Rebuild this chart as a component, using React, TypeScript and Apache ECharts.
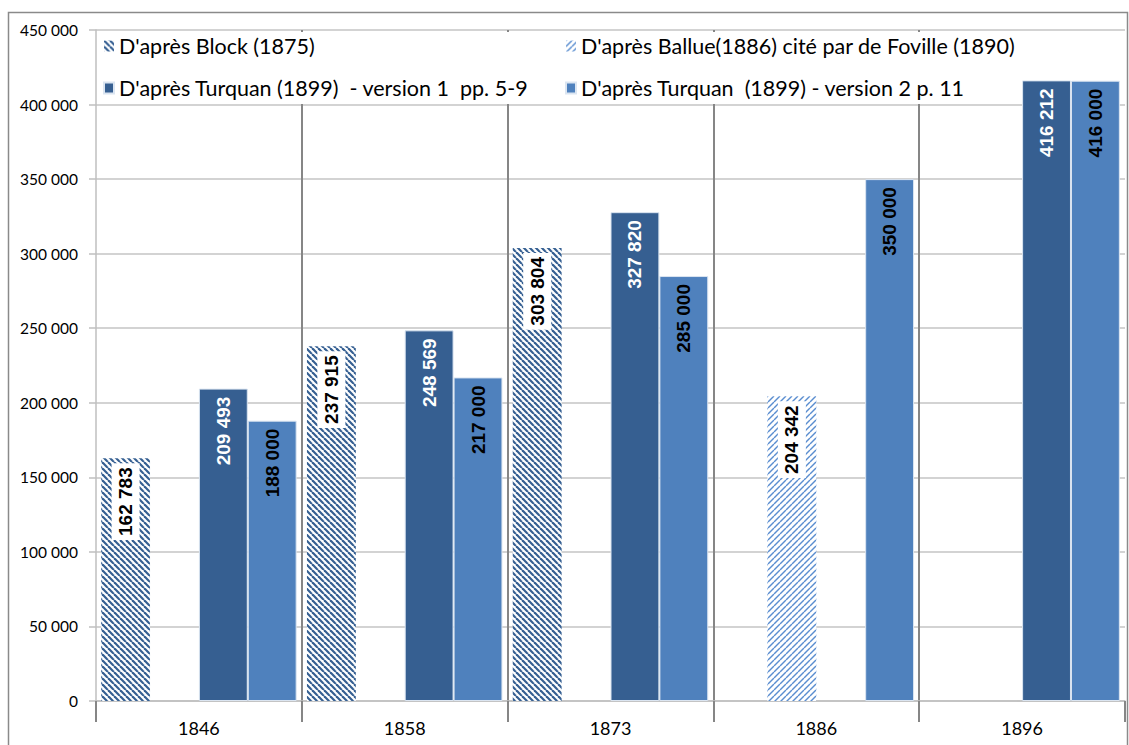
import React, { useEffect, useRef } from "react";
import * as echarts from "echarts";

const categories = ["1846", "1858", "1873", "1886", "1896"];
const seriesNames = [
  "D'après Block (1875)",
  "D'après Ballue(1886) cité par de Foville (1890)",
  "D'après Turquan (1899)  - version 1  pp. 5-9",
  "D'après Turquan  (1899) - version 2 p. 11",
];
const blockValues = [162783, 237915, 303804, null, null];
const ballueValues = [null, null, null, 204342, null];
const turquan1Values = [209493, 248569, 327820, null, 416212];
const turquan2Values = [188000, 217000, 285000, 350000, 416000];
const yTicks = [0, 50000, 100000, 150000, 200000, 250000, 300000, 350000, 400000, 450000];

const fmt = (v: number) => String(v).replace(/\B(?=(\d{3})+(?!\d))/g, " ");

function hatch(color: string, size: number, lw: number, back: boolean) {
  const c = document.createElement("canvas");
  c.width = size;
  c.height = size;
  const ctx = c.getContext("2d")!;
  ctx.fillStyle = "#ffffff";
  ctx.fillRect(0, 0, size, size);
  ctx.strokeStyle = color;
  ctx.lineWidth = lw;
  for (const o of [-size, 0, size]) {
    ctx.beginPath();
    if (back) {
      ctx.moveTo(o, 0);
      ctx.lineTo(o + size, size);
    } else {
      ctx.moveTo(o, size);
      ctx.lineTo(o + size, 0);
    }
    ctx.stroke();
  }
  return { image: c, repeat: "repeat" } as any;
}

export default function App() {
  const ref = useRef<HTMLDivElement>(null);
  useEffect(() => {
    if (!ref.current) return;
    const chart = echarts.init(ref.current, undefined, { renderer: "svg" });
    const blockPat = hatch("#355f92", 6, 2.2, true);
    const balluePat = hatch("#5a8dd0", 6, 1.4, false);
    const labelBase = {
      show: true,
      position: "insideTop",
      distance: 8,
      rotate: 90,
      align: "right",
      verticalAlign: "middle",
      fontFamily: "Liberation Sans",
      fontWeight: "bold",
      fontSize: 19,
      formatter: (p: any) => fmt(p.value),
    };
    const hatchLabel = {
      ...labelBase,
      distance: 5,
      color: "#000",
      backgroundColor: "#fff",
      padding: [5, 4, 4, 4],
    };
    const legendText = { fontFamily: "Lato", fontSize: 21.5, color: "#000" };
    const legendBase = {
      orient: "vertical",
      top: 30,
      itemGap: 20,
      itemWidth: 10,
      itemHeight: 11,
      icon: "rect",
      textStyle: legendText,
    };
    const option: any = {
      animation: false,
      backgroundColor: "#fff",
      grid: { left: 96, right: 4, top: 30, bottom: 44, containLabel: false },
      legend: [
        { ...legendBase, left: 98, data: [seriesNames[0], seriesNames[2]] },
        { ...legendBase, left: 560, data: [seriesNames[1], seriesNames[3]] },
      ],
      graphic: [
        { type: "rect", z: 1, shape: { x: 97, y: 32, width: 920, height: 72 }, style: { fill: "#fff" } },
        {
          type: "rect",
          z: 10,
          shape: { x: 8.5, y: 12.5, width: 1119, height: 740 },
          style: { fill: "none", stroke: "#8a8a8a", lineWidth: 1.5 },
        },
      ],
      xAxis: {
        type: "category",
        data: categories,
        boundaryGap: true,
        axisLine: { lineStyle: { color: "#bfbfbf", width: 1.5 } },
        axisTick: { show: true, length: 21, lineStyle: { color: "#868686", width: 2 } },
        splitLine: { show: true, showMinLine: false, showMaxLine: false, lineStyle: { color: "#868686", width: 2 } },
        axisLabel: { margin: 18, fontFamily: "Lato", fontSize: 18, color: "#000" },
      },
      yAxis: {
        type: "value",
        min: yTicks[0],
        max: yTicks[yTicks.length - 1],
        interval: 50000,
        axisLine: { show: true, lineStyle: { color: "#bfbfbf", width: 1.5 } },
        axisTick: { show: true, length: 7, lineStyle: { color: "#bfbfbf", width: 1.5 } },
        splitLine: { show: true, lineStyle: { color: "#c4c4c4", width: 1.5 } },
        axisLabel: { margin: 18, fontFamily: "Lato", fontSize: 15.5, color: "#000", formatter: (v: number) => fmt(v) },
      },
      series: [
        {
          name: seriesNames[0],
          type: "bar",
          barGap: "0%",
          barCategoryGap: "5%",
          data: blockValues,
          itemStyle: { color: blockPat },
          label: hatchLabel,
        },
        {
          name: seriesNames[1],
          type: "bar",
          data: ballueValues,
          itemStyle: { color: balluePat },
          label: hatchLabel,
        },
        {
          name: seriesNames[2],
          type: "bar",
          data: turquan1Values,
          itemStyle: { color: "#365f91", borderColor: "#dbe5f1", borderWidth: 1 },
          label: { ...labelBase, color: "#fff" },
        },
        {
          name: seriesNames[3],
          type: "bar",
          data: turquan2Values,
          itemStyle: { color: "#4f81bd", borderColor: "#dbe5f1", borderWidth: 1 },
          label: { ...labelBase, color: "#000" },
        },
      ],
    };
    chart.setOption(option);
    return () => chart.dispose();
  }, []);
  return (
    <div
      ref={ref}
      style={{ position: "absolute", left: 0, top: 0, width: 1129, height: 745, background: "#fff" }}
    />
  );
}
